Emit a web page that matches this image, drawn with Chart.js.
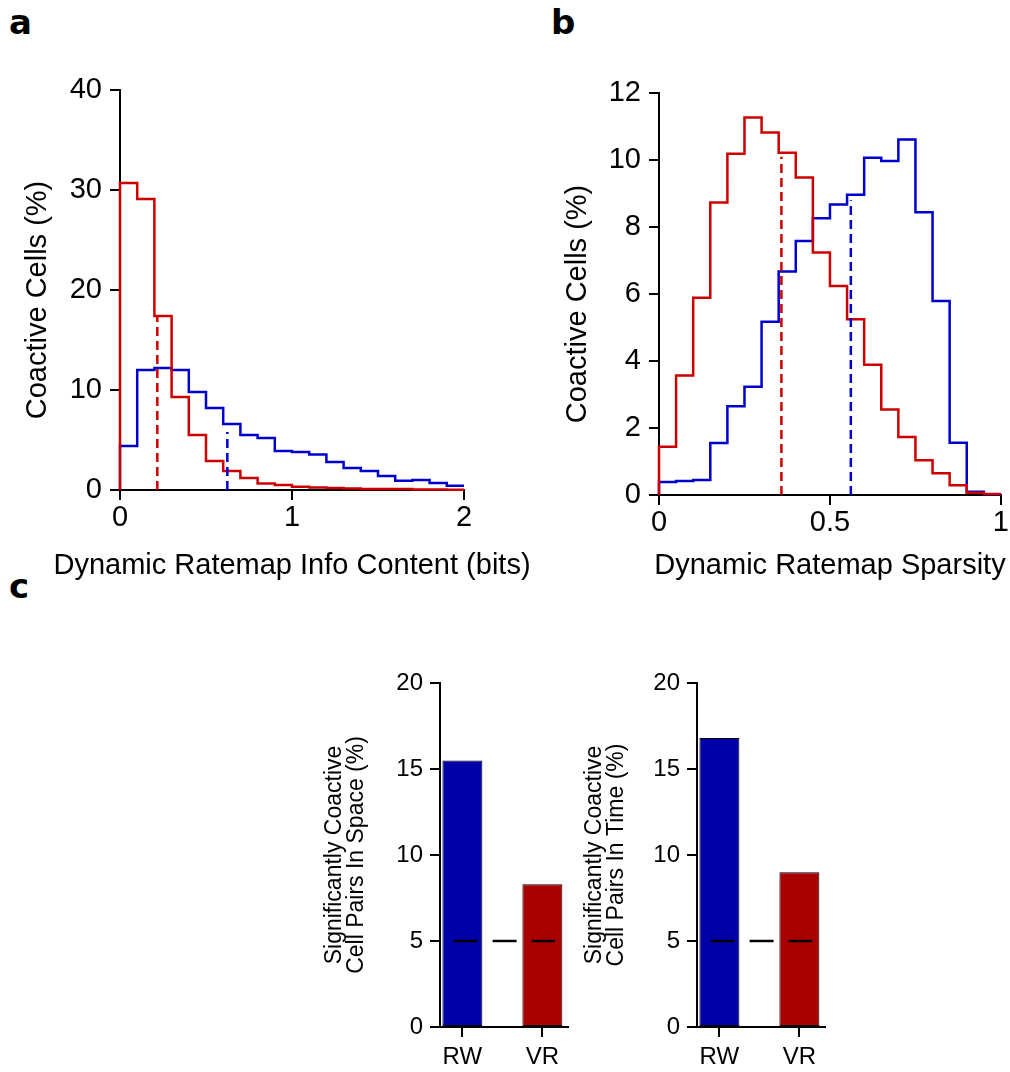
<!DOCTYPE html>
<html>
<head>
<meta charset="utf-8">
<script src="https://cdn.jsdelivr.net/npm/chart.js@4/dist/chart.umd.min.js"></script>
<style>
body { margin:0; background:#fff; width:1010px; height:1072px; position:relative; overflow:hidden; }
canvas { position:absolute; }
.tag { position:absolute; font:bold 34px "DejaVu Sans", sans-serif; line-height:34px; color:#000; }
</style>
</head>
<body>
<div class="tag" style="left:9px;top:5px">a</div>
<div class="tag" style="left:551px;top:5px">b</div>
<div class="tag" style="left:9px;top:569px">c</div>
<canvas id="infoChart" width="540" height="600" style="left:0;top:0"></canvas>
<canvas id="sparsityChart" width="470" height="600" style="left:540px;top:0"></canvas>
<canvas id="spaceChart" width="290" height="432" style="left:300px;top:640px"></canvas>
<canvas id="timeChart" width="290" height="432" style="left:560px;top:640px"></canvas>
<script>
// panel a: info content, 0.1 bit bins (left edges)
const infoBins = [0.0, 0.1, 0.2, 0.3, 0.4, 0.5, 0.6, 0.7, 0.8, 0.9, 1.0, 1.1, 1.2, 1.3, 1.4, 1.5, 1.6, 1.7, 1.8, 1.9];
const infoEnd = 2;
const infoRW = [4.4, 12.0, 12.2, 12.0, 9.8, 8.2, 6.6, 5.5, 5.2, 3.9, 3.8, 3.55, 2.8, 2.2, 1.9, 1.4, 0.93, 1.0, 0.7, 0.43];
const infoVR = [30.7, 29.1, 17.4, 9.3, 5.5, 2.9, 1.9, 1.2, 0.66, 0.5, 0.33, 0.25, 0.2, 0.15, 0.1, 0.1, 0.1, 0.05, 0.05, 0.03];
const infoMedian = [0.624, 0.217];      // RW, VR
const infoMedianTop = [5.8, 17.4];
const infoYTicks = [0, 10, 20, 30, 40];
const infoXTicks = [0, 1, 2];

// panel b: sparsity, 0.05 bins
const sparsityBins = [0.0, 0.05, 0.1, 0.15, 0.2, 0.25, 0.3, 0.35, 0.4, 0.45, 0.5, 0.55, 0.6, 0.65, 0.7, 0.75, 0.8, 0.85, 0.9, 0.95];
const sparsityEnd = 1;
const sparsityRW = [0.39, 0.42, 0.45, 1.55, 2.65, 3.23, 5.17, 6.67, 7.58, 8.26, 8.67, 8.96, 10.07, 9.97, 10.61, 8.44, 5.79, 1.56, 0.1, 0.02];
const sparsityVR = [1.44, 3.57, 5.89, 8.73, 10.19, 11.27, 10.82, 10.22, 9.48, 7.24, 6.24, 5.25, 3.89, 2.55, 1.73, 1.04, 0.65, 0.29, 0.07, 0.03];
const sparsityMedian = [0.561, 0.358];
const sparsityMedianTop = [8.8, 10.1];
const sparsityYTicks = [0, 2, 4, 6, 8, 10, 12];
const sparsityXTicks = [0, 0.5, 1];

// panel c: bars
const pairLabels = ['RW', 'VR'];
const spacePairs = [15.5, 8.3];
const timePairs = [16.8, 9.0];
const chanceLevel = 5;
const pairYTicks = [0, 5, 10, 15, 20];

const rwLine = '#0000cc', vrLine = '#cc0000';
const rwBar = '#0000a8', vrBar = '#a80000';
const FONT = '"Liberation Sans", Arial, sans-serif';

Chart.defaults.font.family = FONT;
Chart.defaults.color = '#000';

// axis titles drawn by hand: no maxWidth squeeze, free placement
const axisTitles = {
    id: 'axisTitles',
    afterDraw(chart, args, opts) {
        const x = chart.scales.x, y = chart.scales.y, ctx = chart.ctx;
        ctx.save();
        ctx.font = opts.size + 'px ' + FONT;
        ctx.fillStyle = '#000';
        ctx.textAlign = 'center';
        ctx.textBaseline = 'middle';
        ctx.fillText(opts.x, (x.left + x.right) / 2, x.bottom - opts.xOffset);
        ctx.translate(y.left + opts.yOffset, (y.top + y.bottom) / 2 + opts.yShift);
        ctx.rotate(-Math.PI / 2);
        ctx.fillText(opts.y, 0, 0);
        ctx.restore();
    }
};

function steps(edges, vals, end) {
    const pts = [{ x: edges[0], y: 0 }];
    edges.forEach((e, i) => pts.push({ x: e, y: vals[i] }));
    pts.push({ x: end, y: vals[vals.length - 1] });
    return pts;
}

function vline(x, top, color) {
    return {
        data: [{ x: x, y: 0 }, { x: x, y: top }],
        borderColor: color, borderWidth: 2.5, borderDash: [9, 5],
        pointRadius: 0, clip: false,
    };
}

function hist(data, color) {
    return { data: data, borderColor: color, borderWidth: 2.5, stepped: true, pointRadius: 0, clip: false };
}

function axisOpts(size, tickPad, extra) {
    return Object.assign({
        border: { color: '#000', width: 2 },
        grid: { drawOnChartArea: false, color: '#000', lineWidth: 2, tickLength: 10, offset: false },
        ticks: { color: '#000', font: { size: size }, padding: tickPad, callback: v => v },
    }, extra);
}

function fixedTicks(list) {
    return function (axis) { axis.ticks = list.map(v => ({ value: v })); };
}

// ============================
// Histograms
// ============================
function histChart(id, o) {
    return new Chart(document.getElementById(id), {
        type: 'line',
        data: {
            datasets: [
                vline(o.median[1], o.medianTop[1], vrLine),
                vline(o.median[0], o.medianTop[0], rwLine),
                hist(steps(o.bins, o.vr, o.end), vrLine),
                hist(steps(o.bins, o.rw, o.end), rwLine),
            ]
        },
        options: {
            responsive: false, animation: false, events: [],
            layout: { padding: o.pad },
            plugins: {
                legend: { display: false }, tooltip: { enabled: false },
                axisTitles: { x: o.xTitle, y: 'Coactive Cells (%)', size: 29, xOffset: 24, yOffset: 38, yShift: 10 },
            },
            scales: {
                x: axisOpts(29, 1, {
                    type: 'linear', min: 0, max: o.end,
                    afterBuildTicks: fixedTicks(o.xTicks),
                    afterFit: s => { s.height = o.xHeight; },
                }),
                y: axisOpts(29, 8, {
                    min: 0, max: o.yTicks[o.yTicks.length - 1],
                    afterBuildTicks: fixedTicks(o.yTicks),
                    afterFit: s => { s.width = o.yWidth; },
                }),
            }
        },
        plugins: [axisTitles]
    });
}

histChart('infoChart', {
    bins: infoBins, end: infoEnd, rw: infoRW, vr: infoVR,
    median: infoMedian, medianTop: infoMedianTop,
    xTicks: infoXTicks, yTicks: infoYTicks,
    xTitle: 'Dynamic Ratemap Info Content (bits)',
    pad: { left: 0, right: 76, top: 90, bottom: 10 }, yWidth: 120, xHeight: 100,
});

histChart('sparsityChart', {
    bins: sparsityBins, end: sparsityEnd, rw: sparsityRW, vr: sparsityVR,
    median: sparsityMedian, medianTop: sparsityMedianTop,
    xTicks: sparsityXTicks, yTicks: sparsityYTicks,
    xTitle: 'Dynamic Ratemap Sparsity',
    pad: { left: 0, right: 8, top: 93, bottom: 10 }, yWidth: 119, xHeight: 95,
});

// ============================
// Bar charts
// ============================
function pairChart(id, values, title, yWidth, padRight) {
    return new Chart(document.getElementById(id), {
        type: 'bar',
        data: {
            datasets: [{
                type: 'line', order: 0,
                data: [{ x: -0.11, y: chanceLevel }, { x: 1.16, y: chanceLevel }],
                borderColor: '#000', borderWidth: 2.5, borderDash: [24, 15], pointRadius: 0,
            }, {
                order: 1,
                data: values.map((v, i) => ({ x: i, y: v })),
                backgroundColor: [rwBar, vrBar],
                borderColor: '#000', borderWidth: 1, borderSkipped: false,
                barPercentage: 0.5, categoryPercentage: 1,
            }]
        },
        options: {
            responsive: false, animation: false, events: [],
            layout: { padding: { left: 0, right: padRight, top: 43, bottom: 5 } },
            plugins: { legend: { display: false }, tooltip: { enabled: false } },
            scales: {
                x: axisOpts(24, 6, {
                    type: 'linear', min: -0.28, max: 1.32, offset: false,
                    afterBuildTicks: fixedTicks([0, 1]),
                    afterFit: s => { s.height = 40; },
                    ticks: { color: '#000', font: { size: 24 }, padding: 6, callback: v => pairLabels[v] },
                }),
                y: axisOpts(24, 7, {
                    min: 0, max: 20,
                    afterBuildTicks: fixedTicks(pairYTicks),
                    afterFit: s => { s.width = yWidth; },
                    title: { display: true, text: title, font: { size: 23, lineHeight: 0.95 }, padding: { top: 24, bottom: 0 } },
                }),
            }
        }
    });
}

pairChart('spaceChart', spacePairs, ['Significantly Coactive', 'Cell Pairs In Space (%)'], 140, 22);
pairChart('timeChart', timePairs, ['Significantly Coactive', 'Cell Pairs In Time (%)'], 137, 25);
</script>
</body>
</html>
